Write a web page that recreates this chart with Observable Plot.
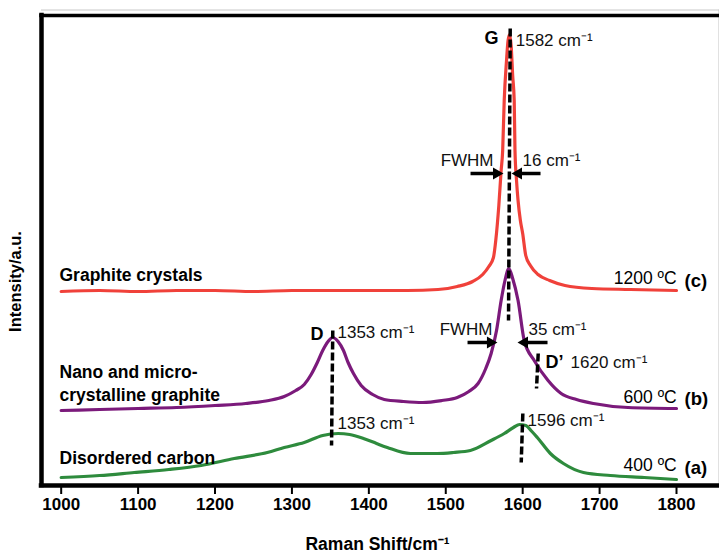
<!DOCTYPE html>
<html>
<head>
<meta charset="utf-8">
<script src="https://cdn.jsdelivr.net/npm/d3@7"></script>
<script src="https://cdn.jsdelivr.net/npm/@observablehq/plot@0.6"></script>
<style>
  html, body { margin: 0; padding: 0; background: #fff; }
  #chart { width: 719px; height: 556px; }
</style>
</head>
<body>
<div id="chart"></div>
<script>
// ---- Data (Raman shift in cm-1, intensity in arbitrary offset units) ----
const xTicks = [1000, 1100, 1200, 1300, 1400, 1500, 1600, 1700, 1800];

// (c) Graphite crystals, 1200 ºC
const shiftC = [1000,1050,1100,1150,1200,1250,1300,1350,1400,1450,1490,1515,1535,1548,1556,1562,1565,1569,1572,1574,1576,1579,1581,1583,1585,1587,1589,1590,1592,1594,1597,1600,1604,1610,1620,1635,1655,1690,1740,1800];
const intC  = [194,195,194,195,195,194,195,195,195,195,196,199,204,211,219,228,245,280,315,335,385,425,445,451,440,410,385,335,305,285,265,252,230,220,211,205,200,197,196,195];

// (b) Nano and micro-crystalline graphite, 600 ºC
const shiftB = [1000,1050,1100,1150,1200,1240,1270,1290,1305,1316,1325,1333,1340,1347,1353,1360,1367,1373,1380,1390,1405,1420,1445,1470,1495,1515,1530,1542,1552,1559,1566,1572,1577,1582,1587,1594,1602,1615,1633,1650,1670,1692,1737,1800];
const intB  = [75,76,77,78,80,82,85,89,95,101,111,123,135,144,148,144,135,123,112,100,91,86,84,83,85,88,94,102,117,132,155,185,205,217,207,185,145,125,105,92,86,82,78,77];

// (a) Disordered carbon, 400 ºC
const shiftA = [1000,1050,1095,1140,1182,1225,1268,1290,1316,1340,1360,1375,1393,1410,1424,1454,1489,1510,1532,1559,1576,1588,1596,1604,1612,1619,1636,1653,1679,1714,1758,1800];
const intA  = [8,10,13,16,20,27,33,38,43,50,52,51,47,42,38,32,32,33,35,45,52,58,61,60,54,48,32,22,13,10,8,6];

// Peak marker dashed lines (x1,y1) -> (x2,y2)
const peakNames = ["G", "D", "D'", "G(a)"];
const peakX1 = [1583.8, 1353.1, 1620.2, 1600.2];
const peakY1 = [457, 155, 132, 72];
const peakX2 = [1581.6, 1351.5, 1618.0, 1598.1];
const peakY2 = [165, 40, 97, 23];

// FWHM arrows: tail -> head
const arrowTailX = [1532.2, 1623.2, 1528.3, 1632.3];
const arrowHeadX = [1569.9, 1590.7, 1562.0, 1598.5];
const arrowY     = [312, 312, 143, 143];
const arrowDir   = [1, -1, 1, -1];

// Annotation texts
const noteText = ["1582 cm\u207B\u00B9", "16 cm\u207B\u00B9", "35 cm\u207B\u00B9", "1620 cm\u207B\u00B9", "1353 cm\u207B\u00B9", "1353 cm\u207B\u00B9", "1596 cm\u207B\u00B9"];
const noteX = [1591.0, 1599.8, 1607.6, 1662.2, 1359.2, 1359.2, 1606.3];
const noteY = [445, 325, 156, 123, 153, 62, 65];

const fwhmText = ["FWHM", "FWHM"];
const fwhmX = [1562.1, 1560.8];
const fwhmY = [325, 156];

const bandText = ["G", "D"];
const bandX = [1568.6, 1341.1];
const bandY = [447, 151];
const bandRText = ["D\u2019"];
const bandRX = [1629.7];
const bandRY = [123];

const tempText = ["1200 \u00BAC", "600 \u00BAC", "400 \u00BAC"];
const tempX = [1800.2, 1800.2, 1800.2];
const tempY = [207, 88, 20];

const sampleTag = ["(c)", "(b)", "(a)"];
const tagX = [1810.4, 1810.4, 1810.4];
const tagY = [204, 86, 17];

const sampleName = ["Graphite crystals", "Nano and micro-", "crystalline graphite", "Disordered carbon"];
const nameX = [997.8, 997.8, 997.8, 997.8];
const nameY = [210, 113, 90, 27];

// ---- Build tables ----
const zip = (xs, ys, extra = {}) => xs.map((x, i) => ({x, y: ys[i], ...extra}));
const seriesC = zip(shiftC, intC);
const seriesB = zip(shiftB, intB);
const seriesA = zip(shiftA, intA);
const peaks = peakNames.map((n, i) => ({n, x1: peakX1[i], y1: peakY1[i], x2: peakX2[i], y2: peakY2[i]}));
const arrows = arrowTailX.map((t, i) => ({x1: t, x2: arrowHeadX[i], y: arrowY[i], dir: arrowDir[i]}));
const notes = noteText.map((t, i) => ({t, x: noteX[i], y: noteY[i]}));
const fwhm = fwhmText.map((t, i) => ({t, x: fwhmX[i], y: fwhmY[i]}));
const bands = bandText.map((t, i) => ({t, x: bandX[i], y: bandY[i]}));
const bandsR = bandRText.map((t, i) => ({t, x: bandRX[i], y: bandRY[i]}));
const temps = tempText.map((t, i) => ({t, x: tempX[i], y: tempY[i]}));
const tags = sampleTag.map((t, i) => ({t, x: tagX[i], y: tagY[i]}));
const names = sampleName.map((t, i) => ({t, x: nameX[i], y: nameY[i]}));

const xDomain = [974.4, 1855.9];
const yDomain = [0, 470];
const font = "'Liberation Sans', Arial, Helvetica, sans-serif";

const chart = Plot.plot({
  width: 719,
  height: 556,
  marginLeft: 41,
  marginRight: 0,
  marginTop: 15,
  marginBottom: 71,
  style: {fontFamily: font, background: "#fff", overflow: "visible"},
  x: {domain: xDomain},
  y: {domain: yDomain, axis: null},
  marks: [
    // faint outer chart border (top and right)
    Plot.ruleY([475.5], {stroke: "#c8c8c8", strokeWidth: 1}),
    Plot.ruleX([xDomain[1] - 0.7], {y1: 0, y2: 475.5, stroke: "#c8c8c8", strokeWidth: 1}),
    // curves
    Plot.line(seriesA, {x: "x", y: "y", stroke: "#2e8b3d", strokeWidth: 3.2, curve: "monotone-x"}),
    Plot.line(seriesB, {x: "x", y: "y", stroke: "#7b1a7b", strokeWidth: 3.2, curve: "monotone-x"}),
    Plot.line(seriesC, {x: "x", y: "y", stroke: "#f0413a", strokeWidth: 3.2, curve: "monotone-x"}),
    // peak dashed markers
    Plot.link(peaks, {x1: "x1", y1: "y1", x2: "x2", y2: "y2", stroke: "#000", strokeWidth: 3.5, strokeDasharray: "8,3"}),
    // FWHM arrows
    Plot.link(arrows, {x1: "x1", x2: "x2", y1: "y", y2: "y", stroke: "#000", strokeWidth: 3.5}),
    Plot.dot(arrows.filter(d => d.dir > 0), {x: "x2", y: "y", symbol: "triangle", r: 4.5, fill: "#000", stroke: "none", rotate: 90, dx: -3}),
    Plot.dot(arrows.filter(d => d.dir < 0), {x: "x2", y: "y", symbol: "triangle", r: 4.5, fill: "#000", stroke: "none", rotate: -90, dx: 3}),
    // texts
    Plot.text(notes, {x: "x", y: "y", text: "t", textAnchor: "start", fontSize: 17, fill: "#111"}),
    Plot.text(fwhm, {x: "x", y: "y", text: "t", textAnchor: "end", fontSize: 17, fill: "#111"}),
    Plot.text(bands, {x: "x", y: "y", text: "t", textAnchor: "end", fontSize: 18, fontWeight: "bold", fill: "#000"}),
    Plot.text(bandsR, {x: "x", y: "y", text: "t", textAnchor: "start", fontSize: 18, fontWeight: "bold", fill: "#000"}),
    Plot.text(temps, {x: "x", y: "y", text: "t", textAnchor: "end", fontSize: 17.5, fill: "#000"}),
    Plot.text(tags, {x: "x", y: "y", text: "t", textAnchor: "start", fontSize: 18.5, fontWeight: "bold", fill: "#000"}),
    Plot.text(names, {x: "x", y: "y", text: "t", textAnchor: "start", fontSize: 17.5, fontWeight: "bold", fill: "#000"}),
    // axes frame: left, top, bottom
    Plot.ruleY([yDomain[0]], {stroke: "#000", strokeWidth: 4.5, strokeLinecap: "square"}),
    Plot.ruleY([yDomain[1]], {stroke: "#000", strokeWidth: 3.5, strokeLinecap: "square"}),
    Plot.ruleX([xDomain[0]], {stroke: "#000", strokeWidth: 4.5, strokeLinecap: "square"}),
    // x axis ticks and labels
    Plot.axisX({ticks: xTicks, tickFormat: "d", tickSize: 9, tickPadding: 3, fontSize: 17, fontWeight: "bold", strokeWidth: 2, label: null}),
    // axis titles
    Plot.text(["Raman Shift/cm\u207B\u00B9"], {frameAnchor: "bottom", dx: -3, dy: 64, fontSize: 17.5, fontWeight: "bold", fill: "#000"}),
    Plot.text(["Intensity/a.u."], {frameAnchor: "left", textAnchor: "middle", rotate: -90, dx: -26, dy: 31, fontSize: 16.5, fontWeight: "bold", fill: "#000"})
  ]
});
document.getElementById("chart").appendChild(chart);
</script>
</body>
</html>
